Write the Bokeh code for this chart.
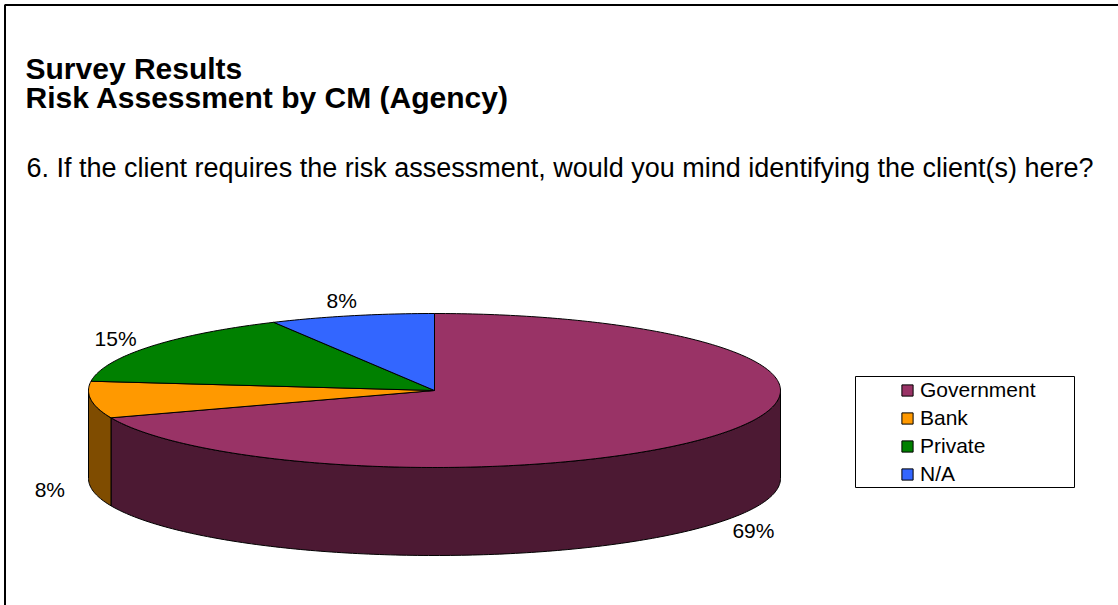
import numpy as np
from bokeh.plotting import figure
from bokeh.models import Range1d, Label, Legend, LegendItem, BoxAnnotation, ColumnDataSource
from bokeh.core.properties import value
from bokeh.embed import file_html
from bokeh.resources import INLINE

# ---- data ----
categories = ["Government", "Bank", "Private", "N/A"]
counts = [9, 1, 2, 1]
pct_labels = ["69%", "8%", "15%", "8%"]
top_colors = ["#993366", "#FF9900", "#008000", "#3366FF"]
side_colors = ["#4C1933", "#7F4C00", "#004000", "#1A3380"]

title_1 = "Survey Results"
title_2 = "Risk Assessment by CM (Agency)"
question = "6. If the client requires the risk assessment, would you mind identifying the client(s) here?"

# ---- layout constants (pixel-like data space) ----
W, H = 1118, 605
CX, CY, RX, RY, DEPTH = 434, 390, 346, 77, 88
FONT = "Liberation Sans"

p = figure(width=W, height=H, x_range=Range1d(0, W), y_range=Range1d(H, 0),
           output_backend="svg", toolbar_location=None, min_border=0,
           x_axis_location=None, y_axis_location=None)
p.grid.visible = False
p.outline_line_color = None
p.background_fill_color = "white"
p.border_fill_color = "white"

total = float(sum(counts))
fracs = np.array(counts) / total
ends = np.cumsum(fracs) * 2 * np.pi
starts = ends - fracs * 2 * np.pi


def arc(a, b):
    n = max(int(abs(b - a) / (2 * np.pi) * 400), 4)
    t = np.linspace(a, b, n)
    return CX + RX * np.sin(t), CY - RY * np.cos(t)

# side walls (front half only: angles between pi/2 and 3pi/2)
wall_xs, wall_ys, wall_c = [], [], []
for s, e, c in zip(starts, ends, side_colors):
    a, b = max(s, np.pi / 2), min(e, 3 * np.pi / 2)
    if a < b:
        x, y = arc(a, b)
        wall_xs.append(list(x) + list(x[::-1]))
        wall_ys.append(list(y) + list((y + DEPTH)[::-1]))
        wall_c.append(c)
p.patches(wall_xs, wall_ys, fill_color=wall_c, line_color="black", line_width=1)

# top faces
top_xs, top_ys = [], []
for s, e in zip(starts, ends):
    x, y = arc(s, e)
    top_xs.append([CX] + list(x) + [CX])
    top_ys.append([CY] + list(y) + [CY])
top_src = ColumnDataSource(dict(xs=top_xs, ys=top_ys, color=top_colors, label=categories))
top_r = p.patches("xs", "ys", source=top_src, fill_color="color", line_color="black", line_width=1)

# percentage labels
mids = (starts + ends) / 2
lx = CX + 1.12 * RX * np.sin(mids)
ly = CY - 1.2 * RY * np.cos(mids) + np.where(np.cos(mids) < 0, DEPTH, 0)
p.text(x=lx, y=ly, text=pct_labels, text_font=value(FONT), text_font_size="21px",
       text_align="center", text_baseline="middle", text_color="black")

# titles
p.add_layout(Label(x=25, y=68, text=title_1, text_font=FONT, text_font_size="30px",
                   text_font_style="bold", text_baseline="alphabetic", text_color="black"))
p.add_layout(Label(x=25, y=97, text=title_2, text_font=FONT, text_font_size="30px",
                   text_font_style="bold", text_baseline="alphabetic", text_color="black"))
p.add_layout(Label(x=26, y=167, text=question, text_font=FONT, text_font_size="27px",
                   text_baseline="alphabetic", text_color="black"))

# legend box and legend
p.add_layout(BoxAnnotation(left=855, right=1074, top=376, bottom=487, fill_alpha=0,
                           line_color="black", line_width=1, line_alpha=1))
items = [LegendItem(label=c, renderers=[top_r], index=i) for i, c in enumerate(categories)]
legend = Legend(items=items, location=(900, 119), padding=0, margin=0,
                border_line_alpha=0, background_fill_alpha=0,
                glyph_width=14, glyph_height=14, label_standoff=6,
                label_height=24, spacing=4,
                label_text_font=FONT, label_text_font_size="21px",
                label_text_color="black")
p.add_layout(legend)

# outer frame (only left and top edges fall inside the picture)
p.line(x=[4.5, 4.5, W + 20], y=[H + 20, 4.5, 4.5], line_color="black", line_width=2)

open("out.html", "w").write(file_html(p, INLINE))
